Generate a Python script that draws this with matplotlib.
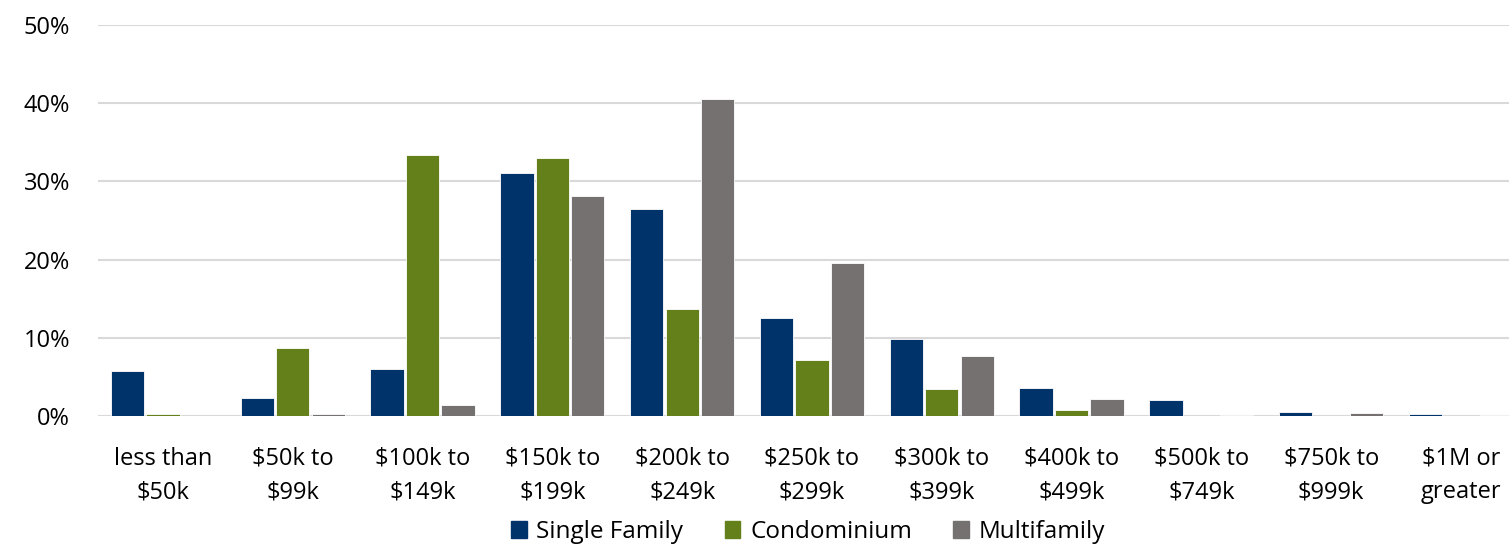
import matplotlib
matplotlib.use("Agg")
import matplotlib.pyplot as plt
from matplotlib.patches import Patch
import numpy as np

plt.rcParams['font.family'] = ['Open Sans', 'DejaVu Sans']

categories = ["less than\n$50k", "$50k to\n$99k", "$100k to\n$149k", "$150k to\n$199k",
              "$200k to\n$249k", "$250k to\n$299k", "$300k to\n$399k", "$400k to\n$499k",
              "$500k to\n$749k", "$750k to\n$999k", "$1M or\ngreater"]
single_family = [5.75, 2.3, 6.0, 31.1, 26.5, 12.5, 9.85, 3.6, 2.05, 0.5, 0.25]
condominium = [0.2, 8.7, 33.4, 33.0, 13.7, 7.2, 3.45, 0.75, 0.0, 0.0, 0.0]
multifamily = [0.0, 0.3, 1.4, 28.1, 40.5, 19.6, 7.7, 2.2, 0.15, 0.35, 0.15]
series_names = ["Single Family", "Condominium", "Multifamily"]
colors = ["#00336A", "#63801A", "#767171"]

fig = plt.figure(figsize=(15.09, 5.46), dpi=100)
ax = fig.add_axes([98 / 1509, 1 - 416 / 546, 1 - 98 / 1509, (416 - 25) / 546])

x = np.arange(len(categories))
w = 0.256
off = 0.273
for i, (vals, c) in enumerate(zip([single_family, condominium, multifamily], colors)):
    ax.bar(x + (i - 1) * off, vals, width=w, color=c, edgecolor="white", linewidth=0.6, zorder=3)

ax.set_ylim(0, 50)
ax.set_xlim(-0.5, 10.37)
ax.set_yticks(range(0, 51, 10))
ax.set_yticklabels([f"{v}%" for v in range(0, 51, 10)], fontsize=17)
ax.set_xticks(x)
ax.set_xticklabels(categories, fontsize=17, linespacing=1.55)
ax.tick_params(length=0)
ax.tick_params(axis="y", pad=20)
ax.tick_params(axis="x", pad=22)
ax.grid(axis="y", color="#d9d9d9", linewidth=1.5, zorder=0)
for s in ax.spines.values():
    s.set_visible(False)

handles = [Patch(color=c) for c in colors]
fig.legend(handles, series_names, loc="center", bbox_to_anchor=(808 / 1509, 1 - 532 / 546),
           ncol=3, frameon=False, fontsize=17.5, handlelength=0.65, handleheight=0.7,
           handletextpad=0.4, columnspacing=1.7)

fig.savefig("out.png", dpi=100)
